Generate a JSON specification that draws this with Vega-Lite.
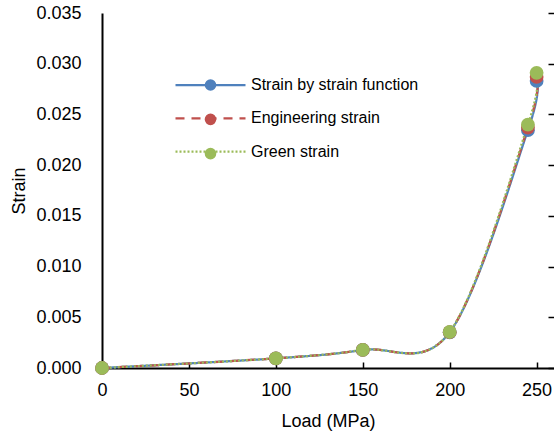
{
  "$schema": "https://vega.github.io/schema/vega-lite/v6.json",
  "width": 452,
  "height": 355,
  "autosize": {"type": "none"},
  "padding": {"left": 102, "top": 13, "right": 0, "bottom": 64},
  "background": "white",
  "config": {
    "view": {"stroke": null},
    "font": "Liberation Sans",
    "axis": {
      "grid": true,
      "gridColor": "#000",
      "gridOpacity": 1,
      "gridWidth": 1.5,
      "gridDash": [6, 1000],
      "domainColor": "#000",
      "domainWidth": 2,
      "ticks": false,
      "labelFlush": false,
      "labelFont": "Liberation Sans",
      "labelFontSize": 18,
      "labelColor": "#000",
      "titleFont": "Liberation Sans",
      "titleFontSize": 18,
      "titleFontWeight": "normal",
      "titleColor": "#000"
    }
  },
  "data": {
    "values": [
      {"load": 0, "strain": 0, "series": "Strain by strain function"},
      {"load": 100, "strain": 0.00095, "series": "Strain by strain function"},
      {"load": 150, "strain": 0.00178, "series": "Strain by strain function"},
      {"load": 200, "strain": 0.00352, "series": "Strain by strain function"},
      {"load": 245, "strain": 0.02345, "series": "Strain by strain function"},
      {"load": 250, "strain": 0.0283, "series": "Strain by strain function"},
      {"load": 0, "strain": 0, "series": "Engineering strain"},
      {"load": 100, "strain": 0.00095, "series": "Engineering strain"},
      {"load": 150, "strain": 0.00178, "series": "Engineering strain"},
      {"load": 200, "strain": 0.00353, "series": "Engineering strain"},
      {"load": 245, "strain": 0.0237, "series": "Engineering strain"},
      {"load": 250, "strain": 0.0287, "series": "Engineering strain"},
      {"load": 0, "strain": 0, "series": "Green strain"},
      {"load": 100, "strain": 0.00095, "series": "Green strain"},
      {"load": 150, "strain": 0.00179, "series": "Green strain"},
      {"load": 200, "strain": 0.00355, "series": "Green strain"},
      {"load": 245, "strain": 0.0240, "series": "Green strain"},
      {"load": 250, "strain": 0.0291, "series": "Green strain"}
    ]
  },
  "encoding": {
    "x": {
      "field": "load",
      "type": "quantitative",
      "scale": {"domain": [0, 260], "nice": false, "zero": true},
      "axis": {
        "title": "Load (MPa)",
        "values": [0, 50, 100, 150, 200, 250],
        "format": "d",
        "labelFlush": false,
        "ticks": false,
        "grid": true,
        "gridDash": [6, 1000],
        "gridDashOffset": 657,
        "labelPadding": 13,
        "titleY": 58,
        "titleBaseline": "alphabetic"
      }
    },
    "y": {
      "field": "strain",
      "type": "quantitative",
      "scale": {"domain": [0, 0.035], "nice": false},
      "axis": {
        "title": "Strain",
        "values": [0, 0.005, 0.01, 0.015, 0.02, 0.025, 0.03, 0.035],
        "format": ".3f",
        "ticks": false,
        "grid": true,
        "gridDash": [6, 1000],
        "gridDashOffset": 560,
        "labelPadding": 21,
        "titleX": -78,
        "titleY": 177.5,
        "titleBaseline": "alphabetic",
        "titleAngle": -90,
        "titleAlign": "center"
      }
    },
    "color": {
      "field": "series",
      "type": "nominal",
      "scale": {
        "domain": ["Strain by strain function", "Engineering strain", "Green strain"],
        "range": ["#4F81BD", "#C0504D", "#9BBB59"]
      },
      "legend": {
        "title": null,
        "orient": "none",
        "legendX": 97,
        "legendY": 60.5,
        "padding": 0,
        "symbolType": "M0.47,0A0.47,0.47,0,1,1,-0.47,0A0.47,0.47,0,1,1,0.47,0Z",
        "symbolSize": 400,
        "symbolStrokeWidth": 2.25,
        "labelFont": "Liberation Sans",
        "labelFontSize": 16,
        "labelExpr": "''",
        "labelOffset": 29,
        "rowPadding": 13.3,
        "encode": {
          "symbols": {
            "update": {
              "fill": {"scale": "color", "field": "value"},
              "stroke": {"value": "transparent"},
              "opacity": {"value": 1}
            }
          }
        }
      }
    }
  },
  "layer": [
    {
      "mark": {"type": "line", "interpolate": "cardinal", "strokeWidth": 2.25},
      "encoding": {
        "strokeDash": {
          "field": "series",
          "type": "nominal",
          "sort": null,
          "scale": {"range": [[1, 0], [9, 7], [2, 2]]},
          "legend": {
            "title": null,
            "orient": "none",
            "legendX": 97,
            "legendY": 60.5,
            "padding": 0,
            "symbolType": "M-3.5,0H3.5",
            "symbolSize": 400,
            "symbolStrokeWidth": 2.25,
            "labelFont": "Liberation Sans",
            "labelFontSize": 16,
            "labelColor": "#000",
            "labelLimit": 400,
            "labelOffset": 29,
            "rowPadding": 13.3,
            "encode": {
              "symbols": {
                "update": {
                  "stroke": {"scale": "color", "field": "value"},
                  "fill": {"value": "transparent"},
                  "opacity": {"value": 1}
                }
              }
            }
          }
        }
      }
    },
    {
      "mark": {"type": "point", "filled": true, "shape": "circle", "size": 190, "opacity": 1}
    }
  ]
}
